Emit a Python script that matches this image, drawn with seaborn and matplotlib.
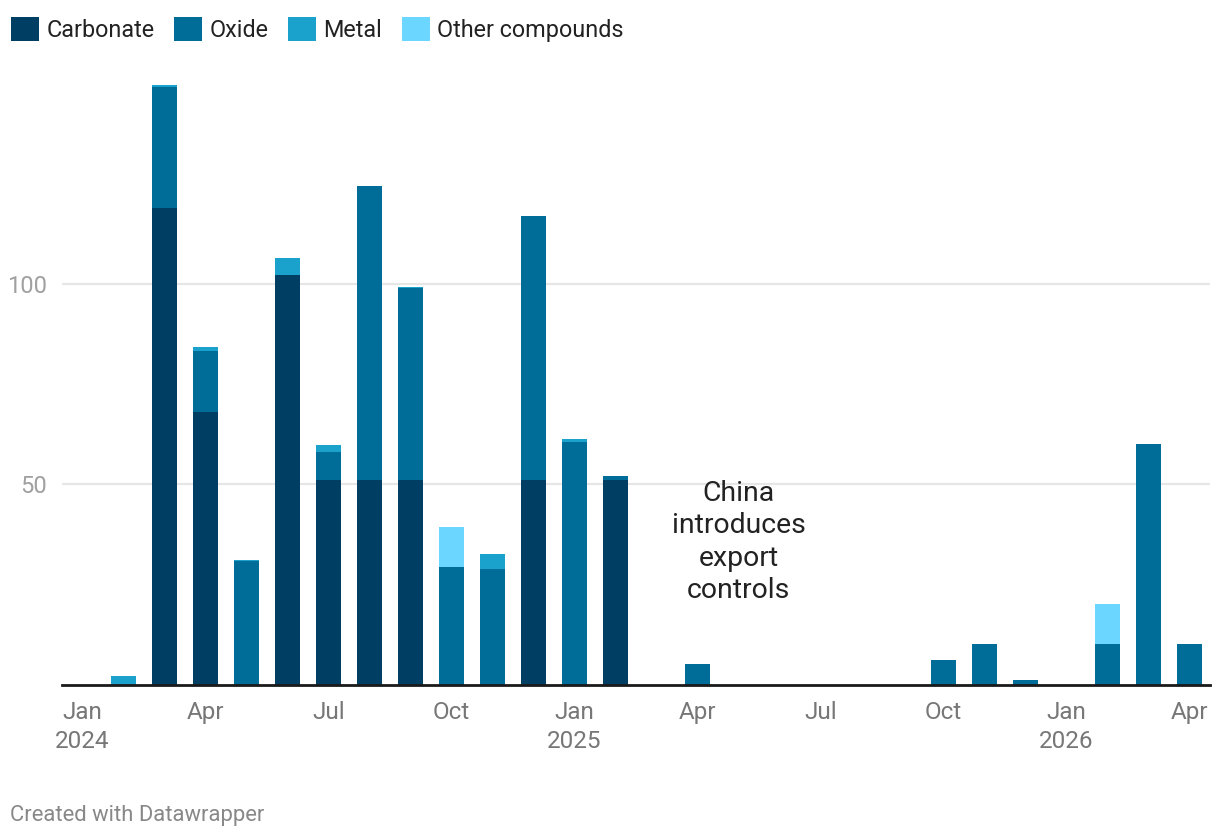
import matplotlib
matplotlib.use("Agg")
import matplotlib.pyplot as plt
import seaborn as sns
import numpy as np
import pandas as pd
from matplotlib.patches import Patch

# ---- data ----
months = ["2024-01", "2024-02", "2024-03", "2024-04", "2024-05", "2024-06", "2024-07",
          "2024-08", "2024-09", "2024-10", "2024-11", "2024-12", "2025-01", "2025-02",
          "2025-03", "2025-04", "2025-05", "2025-06", "2025-07", "2025-08", "2025-09",
          "2025-10", "2025-11", "2025-12", "2026-01", "2026-02", "2026-03", "2026-04"]
carbonate = [0, 0, 119, 68, 0, 102.2, 51.1, 51.1, 51.1, 0, 0, 51.1, 0, 51.1,
             0, 0, 0, 0, 0, 0, 0, 0, 0, 0, 0, 0, 0, 0]
oxide = [0, 0, 30.3, 15.3, 30.9, 0, 7.0, 73.3, 48.0, 29.4, 28.9, 65.8, 60.6, 1.0,
         0, 5.0, 0, 0, 0, 0, 0, 6.0, 10.0, 1.0, 0, 10.0, 60.0, 10.0]
metal = [0, 2.0, 0.3, 1.0, 0.3, 4.3, 1.8, 0, 0.2, 0, 3.8, 0, 0.7, 0,
         0, 0, 0, 0, 0, 0, 0, 0, 0, 0, 0, 0, 0, 0]
other = [0, 0, 0, 0, 0, 0, 0, 0, 0, 10.0, 0, 0, 0, 0,
         0, 0, 0, 0, 0, 0, 0, 0, 0, 0, 0, 10.0, 0, 0]
series_names = ["Carbonate", "Oxide", "Metal", "Other compounds"]
series_colors = ["#003f63", "#006c98", "#1aa1cc", "#6bd6ff"]
tick_idx = [0, 3, 6, 9, 12, 15, 18, 21, 24, 27]
tick_labels = ["Jan\n2024", "Apr", "Jul", "Oct", "Jan\n2025", "Apr", "Jul", "Oct", "Jan\n2026", "Apr"]
y_ticks = [50, 100]
annotation = "China\nintroduces\nexport\ncontrols"

# ---- figure ----
sns.set_theme(style="white")
plt.rcParams["font.family"] = ["Roboto", "DejaVu Sans"]

fig = plt.figure(figsize=(12.2, 8.38), dpi=100)
ax = fig.add_axes([62 / 1220, 1 - 684.5 / 838, 1148 / 1220, 600.75 / 838])

df = pd.DataFrame({"month": months, "Carbonate": carbonate, "Oxide": oxide,
                   "Metal": metal, "Other compounds": other})
cum = df[series_names].cumsum(axis=1)

for name, col in reversed(list(zip(series_names, series_colors))):
    sns.barplot(data=cum.assign(month=df["month"]), x="month", y=name, order=months,
                color=col, saturation=1, width=0.62, ax=ax, linewidth=0, zorder=3)

ax.set_xlim(-0.5, 27.5)
ax.set_ylim(0, 150)
ax.set_xlabel("")
ax.set_ylabel("")

ax.set_yticks(y_ticks)
ax.set_yticklabels([str(v) for v in y_ticks])
ax.tick_params(axis="y", length=0, pad=11, labelsize=17, labelcolor="#a0a0a0")
ax.set_xticks(tick_idx)
ax.set_xticklabels(tick_labels)
ax.tick_params(axis="x", length=0, pad=12, labelsize=17.5, labelcolor="#777777")
for lab in ax.get_xticklabels():
    lab.set_linespacing(1.3)

ax.grid(axis="y", color="#e6e6e6", linewidth=1.5, zorder=0)
ax.grid(axis="x", visible=False)
for s in ["top", "right", "left"]:
    ax.spines[s].set_visible(False)
ax.spines["bottom"].set_color("#1a1a1a")
ax.spines["bottom"].set_linewidth(2)
ax.spines["bottom"].set_zorder(5)

ax.text(16, 35.6, annotation, ha="center", va="center", fontsize=20.4,
        color="#222222", linespacing=1.26, zorder=6)

handles = [Patch(facecolor=c, edgecolor="none", label=n) for n, c in zip(series_names, series_colors)]
fig.legend(handles=handles, loc="upper left", bbox_to_anchor=(2 / 1220, 1 - 8 / 838),
           ncol=4, frameon=False, fontsize=16.8, handlelength=1.2, handleheight=1.2,
           handletextpad=0.3, columnspacing=0.85, borderaxespad=0, labelcolor="#222222")

fig.text(10 / 1220, 1 - 815 / 838, "Created with Datawrapper", ha="left", va="center",
         fontsize=15.8, color="#888888")

fig.savefig("out.png", dpi=100)
